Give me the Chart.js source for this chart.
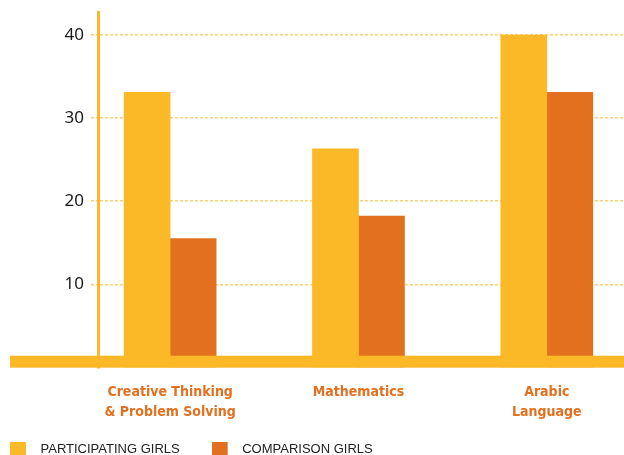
<!DOCTYPE html>
<html><head><meta charset="utf-8">
<script src="https://cdn.jsdelivr.net/npm/chart.js@4"></script>
<style>html,body{margin:0;padding:0;background:#fff;overflow:hidden}#wrap{width:624px;height:455px;position:relative}</style>
</head><body><div id="wrap"><canvas id="c"></canvas></div>
<script>
// ---- data ----
const categories = [['Creative Thinking', '& Problem Solving'], ['Mathematics'], ['Arabic', 'Language']];
const seriesNames = ['PARTICIPATING GIRLS', 'COMPARISON GIRLS'];
const participatingGirls = [33.1, 26.3, 40.0];
const comparisonGirls = [15.5, 18.2, 33.1];
const yTicks = [10, 20, 30, 40];

const YELLOW = '#FBB827';
const ORANGE = '#E3701E';
const GRID = 'rgba(251,184,39,0.65)';
const LABEL_FONT = '"DejaVu Sans Condensed", "Liberation Sans", sans-serif';

// legend icon: 16x14 square at the left of a 24px wide transparent canvas
function legendIcon(color) {
  const c = document.createElement('canvas');
  c.width = 24; c.height = 14;
  const g = c.getContext('2d');
  g.fillStyle = color;
  g.fillRect(0, 0, 16, 14);
  return c;
}
const legendIcons = [legendIcon(YELLOW), legendIcon(ORANGE)];

const baseBand = {
  id: 'baseBand',
  afterLayout(chart) {
    // let the two-line category labels extend below the space reserved for the axis
    const x = chart.scales.x;
    x.bottom = x.top + 70;
  },
  afterDatasetsDraw(chart) {
    const {ctx, scales: {y}} = chart;
    const y0 = y.getPixelForValue(0);
    ctx.save();
    ctx.fillStyle = YELLOW;
    ctx.fillRect(10, y0 - 11.7, chart.width - 10, 12);
    ctx.restore();
  }
};

new Chart(document.getElementById('c'), {
  type: 'bar',
  data: {
    datasets: [
      { label: seriesNames[0], data: participatingGirls.map((v, i) => ({x: i, y: v})), backgroundColor: YELLOW, borderWidth: 0, barThickness: 46 },
      { label: seriesNames[1], data: comparisonGirls.map((v, i) => ({x: i, y: v})), backgroundColor: ORANGE, borderWidth: 0, barThickness: 46 }
    ]
  },
  options: {
    responsive: true,
    maintainAspectRatio: false,
    animation: false,
    layout: { padding: { top: 12.7, left: -22, right: 0, bottom: -10.5 } },
    plugins: {
      tooltip: { enabled: false },
      legend: {
        position: 'bottom',
        align: 'start',
        labels: {
          usePointStyle: true,
          pointStyleWidth: 24,
          boxHeight: 14,
          padding: 32,
          color: '#222',
          font: { family: '"Liberation Sans", Arial, sans-serif', size: 13 },
          generateLabels: chart => Chart.defaults.plugins.legend.labels.generateLabels(chart)
            .map((it, i) => Object.assign(it, { pointStyle: legendIcons[i] }))
        }
      }
    },
    scales: {
      x: {
        type: 'linear',
        offset: false,
        bounds: 'data',
        min: -0.383,
        max: 2.41,
        grid: { display: false, drawTicks: false, offset: false },
        border: { display: false },
        afterBuildTicks: s => { s.ticks = categories.map((c, i) => ({value: i})); },
        afterFit: s => { s.height = 43.1; s.paddingLeft = 0; s.paddingRight = 0; },
        ticks: {
          padding: 15,
          autoSkip: false,
          maxRotation: 0,
          color: ORANGE,
          font: { family: LABEL_FONT, size: 14, weight: 'bold', lineHeight: '20px' },
          callback: v => categories[v]
        }
      },
      y: {
        min: 0,
        max: 42.68,
        afterBuildTicks: s => { s.ticks = yTicks.map(v => ({value: v})); },
        afterFit: s => { s.width = 120; s.paddingTop = 0; s.paddingBottom = 0; },
        grid: { color: GRID, lineWidth: 1.5, tickLength: 7, tickColor: GRID, tickWidth: 1.5, tickBorderDash: [3, 2] },
        border: { display: true, color: YELLOW, width: 3, dash: [3, 2] },
        ticks: {
          padding: 7,
          color: '#1a1a1a',
          font: { family: '"Noto Sans", "Open Sans", sans-serif', size: 17 }
        }
      }
    }
  },
  plugins: [baseBand]
});
</script>
</body></html>
